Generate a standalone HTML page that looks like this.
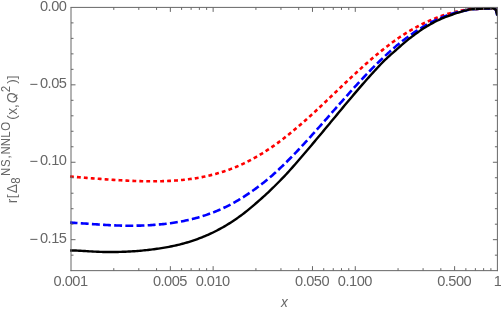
<!DOCTYPE html>
<html><head><meta charset="utf-8"><title>plot</title>
<style>html,body{margin:0;padding:0;background:#fff;}body{width:501px;height:312px;overflow:hidden;position:relative;font-family:"Liberation Sans",sans-serif;}</style>
</head><body>
<svg width="501" height="312" viewBox="0 0 501 312" style="position:absolute;left:0;top:0;will-change:transform">
<rect width="501" height="312" fill="#fff"/>
<clipPath id="q"><rect x="-2" y="-14" width="16" height="14.7"/></clipPath>
<clipPath id="c"><rect x="69.9" y="5.4" width="428.0" height="265.25"/></clipPath>
<g fill="none" stroke-width="2.4" stroke-linejoin="round" clip-path="url(#c)">
<path d="M70.00 176.53 L71.50 176.66 L73.00 176.79 L74.50 176.91 L76.00 177.04 L77.50 177.16 L79.00 177.28 L80.50 177.40 L82.00 177.52 L83.50 177.63 L85.00 177.75 L86.50 177.87 L88.00 177.98 L89.50 178.10 L91.00 178.21 L92.50 178.33 L94.00 178.44 L95.50 178.56 L97.00 178.67 L98.50 178.78 L100.00 178.89 L101.50 179.00 L103.00 179.11 L104.50 179.22 L106.00 179.33 L107.50 179.44 L109.00 179.54 L110.50 179.64 L112.00 179.74 L113.50 179.84 L115.00 179.94 L116.50 180.04 L118.00 180.13 L119.50 180.22 L121.00 180.31 L122.50 180.39 L124.00 180.48 L125.50 180.56 L127.00 180.63 L128.50 180.71 L130.00 180.78 L131.50 180.84 L133.00 180.90 L134.50 180.96 L136.00 181.02 L137.50 181.07 L139.00 181.11 L140.50 181.16 L142.00 181.19 L143.50 181.23 L145.00 181.25 L146.50 181.28 L148.00 181.29 L149.50 181.31 L151.00 181.31 L152.50 181.32 L154.00 181.31 L155.50 181.30 L157.00 181.29 L158.50 181.26 L160.00 181.23 L161.50 181.20 L163.00 181.16 L164.50 181.11 L166.00 181.05 L167.50 180.99 L169.00 180.92 L170.50 180.84 L172.00 180.76 L173.50 180.66 L175.00 180.56 L176.50 180.45 L178.00 180.33 L179.50 180.21 L181.00 180.07 L182.50 179.93 L184.00 179.77 L185.50 179.61 L187.00 179.43 L188.50 179.25 L190.00 179.05 L191.50 178.85 L193.00 178.63 L194.50 178.41 L196.00 178.17 L197.50 177.92 L199.00 177.66 L200.50 177.39 L202.00 177.10 L203.50 176.81 L205.00 176.50 L206.50 176.17 L208.00 175.84 L209.50 175.49 L211.00 175.13 L212.50 174.75 L214.00 174.36 L215.50 173.96 L217.00 173.54 L218.50 173.11 L220.00 172.66 L221.50 172.20 L223.00 171.72 L224.50 171.23 L226.00 170.72 L227.50 170.20 L229.00 169.66 L230.50 169.10 L232.00 168.53 L233.50 167.94 L235.00 167.34 L236.50 166.72 L238.00 166.08 L239.50 165.43 L241.00 164.75 L242.50 164.06 L244.00 163.36 L245.50 162.64 L247.00 161.90 L248.50 161.14 L250.00 160.36 L251.50 159.57 L253.00 158.76 L254.50 157.93 L256.00 157.09 L257.50 156.23 L259.00 155.35 L260.50 154.45 L262.00 153.54 L263.50 152.61 L265.00 151.66 L266.50 150.69 L268.00 149.71 L269.50 148.71 L271.00 147.70 L272.50 146.67 L274.00 145.62 L275.50 144.55 L277.00 143.47 L278.50 142.38 L280.00 141.27 L281.50 140.14 L283.00 139.00 L284.50 137.84 L286.00 136.67 L287.50 135.48 L289.00 134.28 L290.50 133.07 L292.00 131.84 L293.50 130.60 L295.00 129.35 L296.50 128.09 L298.00 126.81 L299.50 125.52 L301.00 124.22 L302.50 122.91 L304.00 121.59 L305.50 120.26 L307.00 118.92 L308.50 117.57 L310.00 116.22 L311.50 114.85 L313.00 113.48 L314.50 112.10 L316.00 110.71 L317.50 109.31 L319.00 107.91 L320.50 106.51 L322.00 105.10 L323.50 103.68 L325.00 102.27 L326.50 100.84 L328.00 99.42 L329.50 97.99 L331.00 96.56 L332.50 95.13 L334.00 93.70 L335.50 92.27 L337.00 90.84 L338.50 89.41 L340.00 87.98 L341.50 86.55 L343.00 85.13 L344.50 83.70 L346.00 82.28 L347.50 80.87 L349.00 79.46 L350.50 78.05 L352.00 76.65 L353.50 75.25 L355.00 73.86 L356.50 72.48 L358.00 71.10 L359.50 69.73 L361.00 68.37 L362.50 67.02 L364.00 65.68 L365.50 64.34 L367.00 63.02 L368.50 61.70 L370.00 60.40 L371.50 59.10 L373.00 57.82 L374.50 56.55 L376.00 55.29 L377.50 54.04 L379.00 52.81 L380.50 51.58 L382.00 50.38 L383.50 49.18 L385.00 48.00 L386.50 46.83 L388.00 45.68 L389.50 44.54 L391.00 43.41 L392.50 42.30 L394.00 41.21 L395.50 40.13 L397.00 39.07 L398.50 38.02 L400.00 36.99 L401.50 36.00 L403.00 35.03 L404.50 34.08 L406.00 33.15 L407.50 32.23 L409.00 31.32 L410.50 30.44 L412.00 29.57 L413.50 28.72 L415.00 27.89 L416.50 27.07 L418.00 26.27 L419.50 25.49 L421.00 24.72 L422.50 23.97 L424.00 23.24 L425.50 22.53 L427.00 21.84 L428.50 21.16 L430.00 20.50 L431.50 19.86 L433.00 19.24 L434.50 18.63 L436.00 18.04 L437.50 17.46 L439.00 16.88 L440.50 16.33 L442.00 15.80 L443.50 15.28 L445.00 14.78 L446.50 14.30 L448.00 13.84 L449.50 13.40 L451.00 12.97 L452.50 12.57 L454.00 12.18 L455.50 11.81 L457.00 11.44 L458.50 11.08 L460.00 10.74 L461.50 10.42 L463.00 10.17 L464.50 9.96 L466.00 9.73 L467.50 9.51 L469.00 9.29 L470.50 9.15 L472.00 9.05 L473.50 8.97 L475.00 8.92 L476.50 8.87 L478.00 8.85 L479.50 8.76 L481.00 8.69 L482.50 8.62 L484.00 8.56 L485.50 8.50 L487.00 8.46 L488.50 8.43 L490.00 8.39 L491.50 8.37 L493.00 8.36 L495.9 9.6 L497.3 15.4" stroke="#ff0000" stroke-width="2.6" stroke-dasharray="3.85 3.1"/>
<path d="M70.00 222.59 L71.50 222.67 L73.00 222.75 L74.50 222.84 L76.00 222.94 L77.50 223.03 L79.00 223.13 L80.50 223.24 L82.00 223.34 L83.50 223.45 L85.00 223.55 L86.50 223.66 L88.00 223.77 L89.50 223.88 L91.00 223.99 L92.50 224.09 L94.00 224.20 L95.50 224.30 L97.00 224.41 L98.50 224.51 L100.00 224.61 L101.50 224.70 L103.00 224.79 L104.50 224.88 L106.00 224.97 L107.50 225.05 L109.00 225.13 L110.50 225.20 L112.00 225.27 L113.50 225.34 L115.00 225.40 L116.50 225.46 L118.00 225.51 L119.50 225.55 L121.00 225.59 L122.50 225.63 L124.00 225.66 L125.50 225.68 L127.00 225.70 L128.50 225.71 L130.00 225.72 L131.50 225.72 L133.00 225.71 L134.50 225.70 L136.00 225.68 L137.50 225.65 L139.00 225.62 L140.50 225.58 L142.00 225.53 L143.50 225.48 L145.00 225.42 L146.50 225.35 L148.00 225.28 L149.50 225.20 L151.00 225.11 L152.50 225.01 L154.00 224.90 L155.50 224.79 L157.00 224.67 L158.50 224.54 L160.00 224.40 L161.50 224.26 L163.00 224.10 L164.50 223.94 L166.00 223.76 L167.50 223.58 L169.00 223.39 L170.50 223.19 L172.00 222.97 L173.50 222.75 L175.00 222.52 L176.50 222.28 L178.00 222.03 L179.50 221.76 L181.00 221.49 L182.50 221.20 L184.00 220.90 L185.50 220.59 L187.00 220.27 L188.50 219.93 L190.00 219.59 L191.50 219.23 L193.00 218.85 L194.50 218.47 L196.00 218.07 L197.50 217.65 L199.00 217.23 L200.50 216.78 L202.00 216.33 L203.50 215.86 L205.00 215.37 L206.50 214.87 L208.00 214.35 L209.50 213.81 L211.00 213.26 L212.50 212.70 L214.00 212.11 L215.50 211.51 L217.00 210.90 L218.50 210.26 L220.00 209.61 L221.50 208.94 L223.00 208.25 L224.50 207.54 L226.00 206.82 L227.50 206.08 L229.00 205.32 L230.50 204.54 L232.00 203.74 L233.50 202.92 L235.00 202.08 L236.50 201.23 L238.00 200.35 L239.50 199.45 L241.00 198.54 L242.50 197.60 L244.00 196.65 L245.50 195.68 L247.00 194.68 L248.50 193.67 L250.00 192.63 L251.50 191.60 L253.00 190.55 L254.50 189.48 L256.00 188.39 L257.50 187.28 L259.00 186.15 L260.50 185.00 L262.00 183.84 L263.50 182.65 L265.00 181.44 L266.50 180.22 L268.00 178.98 L269.50 177.71 L271.00 176.43 L272.50 175.14 L274.00 173.82 L275.50 172.47 L277.00 171.09 L278.50 169.71 L280.00 168.30 L281.50 166.88 L283.00 165.44 L284.50 163.99 L286.00 162.52 L287.50 161.04 L289.00 159.54 L290.50 158.03 L292.00 156.50 L293.50 154.96 L295.00 153.41 L296.50 151.85 L298.00 150.27 L299.50 148.68 L301.00 147.08 L302.50 145.47 L304.00 143.85 L305.50 142.22 L307.00 140.58 L308.50 138.94 L310.00 137.28 L311.50 135.62 L313.00 133.95 L314.50 132.29 L316.00 130.61 L317.50 128.94 L319.00 127.25 L320.50 125.56 L322.00 123.87 L323.50 122.18 L325.00 120.48 L326.50 118.78 L328.00 117.08 L329.50 115.37 L331.00 113.67 L332.50 111.97 L334.00 110.26 L335.50 108.56 L337.00 106.86 L338.50 105.16 L340.00 103.46 L341.50 101.77 L343.00 100.08 L344.50 98.39 L346.00 96.70 L347.50 95.02 L349.00 93.34 L350.50 91.67 L352.00 90.01 L353.50 88.35 L355.00 86.71 L356.50 85.07 L358.00 83.43 L359.50 81.81 L361.00 80.20 L362.50 78.60 L364.00 77.01 L365.50 75.42 L367.00 73.85 L368.50 72.29 L370.00 70.74 L371.50 69.20 L373.00 67.68 L374.50 66.17 L376.00 64.67 L377.50 63.19 L379.00 61.72 L380.50 60.27 L382.00 58.83 L383.50 57.41 L385.00 56.00 L386.50 54.61 L388.00 53.24 L389.50 51.88 L391.00 50.54 L392.50 49.22 L394.00 47.91 L395.50 46.63 L397.00 45.37 L398.50 44.14 L400.00 42.93 L401.50 41.74 L403.00 40.57 L404.50 39.42 L406.00 38.28 L407.50 37.17 L409.00 36.08 L410.50 35.01 L412.00 33.96 L413.50 32.93 L415.00 31.92 L416.50 30.93 L418.00 29.96 L419.50 29.02 L421.00 28.10 L422.50 27.20 L424.00 26.32 L425.50 25.44 L427.00 24.59 L428.50 23.76 L430.00 22.95 L431.50 22.17 L433.00 21.40 L434.50 20.67 L436.00 19.95 L437.50 19.26 L439.00 18.60 L440.50 17.95 L442.00 17.33 L443.50 16.74 L445.00 16.17 L446.50 15.61 L448.00 15.07 L449.50 14.56 L451.00 14.07 L452.50 13.60 L454.00 13.16 L455.50 12.74 L457.00 12.34 L458.50 11.97 L460.00 11.62 L461.50 11.29 L463.00 10.99 L464.50 10.69 L466.00 10.38 L467.50 10.06 L469.00 9.75 L470.50 9.53 L472.00 9.34 L473.50 9.19 L475.00 9.07 L476.50 8.94 L478.00 8.85 L479.50 8.76 L481.00 8.69 L482.50 8.62 L484.00 8.56 L485.50 8.50 L487.00 8.46 L488.50 8.43 L490.00 8.39 L491.50 8.37 L493.00 8.36 L495.9 9.6 L497.3 15.4" stroke="#0000ff" stroke-width="2.6" stroke-dasharray="7.9 3.27" stroke-dashoffset="0.4"/>
<path d="M70.00 250.47 L71.50 250.46 L73.00 250.48 L74.50 250.51 L76.00 250.57 L77.50 250.63 L79.00 250.70 L80.50 250.78 L82.00 250.87 L83.50 250.96 L85.00 251.06 L86.50 251.15 L88.00 251.24 L89.50 251.33 L91.00 251.42 L92.50 251.51 L94.00 251.59 L95.50 251.66 L97.00 251.73 L98.50 251.79 L100.00 251.85 L101.50 251.90 L103.00 251.94 L104.50 251.98 L106.00 252.00 L107.50 252.02 L109.00 252.03 L110.50 252.04 L112.00 252.03 L113.50 252.02 L115.00 252.00 L116.50 251.97 L118.00 251.93 L119.50 251.90 L121.00 251.86 L122.50 251.82 L124.00 251.77 L125.50 251.70 L127.00 251.64 L128.50 251.56 L130.00 251.48 L131.50 251.39 L133.00 251.29 L134.50 251.19 L136.00 251.08 L137.50 250.96 L139.00 250.84 L140.50 250.71 L142.00 250.57 L143.50 250.43 L145.00 250.28 L146.50 250.12 L148.00 249.95 L149.50 249.78 L151.00 249.60 L152.50 249.41 L154.00 249.22 L155.50 249.01 L157.00 248.80 L158.50 248.58 L160.00 248.35 L161.50 248.11 L163.00 247.87 L164.50 247.61 L166.00 247.36 L167.50 247.09 L169.00 246.82 L170.50 246.53 L172.00 246.24 L173.50 245.93 L175.00 245.61 L176.50 245.28 L178.00 244.92 L179.50 244.55 L181.00 244.16 L182.50 243.76 L184.00 243.35 L185.50 242.93 L187.00 242.49 L188.50 242.04 L190.00 241.57 L191.50 241.09 L193.00 240.59 L194.50 240.08 L196.00 239.55 L197.50 239.01 L199.00 238.45 L200.50 237.88 L202.00 237.30 L203.50 236.69 L205.00 236.07 L206.50 235.44 L208.00 234.78 L209.50 234.11 L211.00 233.42 L212.50 232.71 L214.00 231.98 L215.50 231.23 L217.00 230.47 L218.50 229.68 L220.00 228.87 L221.50 228.05 L223.00 227.21 L224.50 226.34 L226.00 225.46 L227.50 224.56 L229.00 223.64 L230.50 222.70 L232.00 221.74 L233.50 220.74 L235.00 219.72 L236.50 218.69 L238.00 217.63 L239.50 216.55 L241.00 215.46 L242.50 214.34 L244.00 213.21 L245.50 212.03 L247.00 210.83 L248.50 209.61 L250.00 208.38 L251.50 207.12 L253.00 205.85 L254.50 204.56 L256.00 203.25 L257.50 201.97 L259.00 200.67 L260.50 199.35 L262.00 198.02 L263.50 196.67 L265.00 195.30 L266.50 193.91 L268.00 192.51 L269.50 191.09 L271.00 189.66 L272.50 188.21 L274.00 186.74 L275.50 185.26 L277.00 183.77 L278.50 182.26 L280.00 180.74 L281.50 179.20 L283.00 177.65 L284.50 176.09 L286.00 174.51 L287.50 172.90 L289.00 171.23 L290.50 169.54 L292.00 167.85 L293.50 166.14 L295.00 164.42 L296.50 162.69 L298.00 160.95 L299.50 159.20 L301.00 157.47 L302.50 155.73 L304.00 153.99 L305.50 152.23 L307.00 150.47 L308.50 148.70 L310.00 146.93 L311.50 145.15 L313.00 143.37 L314.50 141.60 L316.00 139.83 L317.50 138.05 L319.00 136.26 L320.50 134.47 L322.00 132.68 L323.50 130.88 L325.00 129.08 L326.50 127.27 L328.00 125.47 L329.50 123.66 L331.00 121.85 L332.50 120.04 L334.00 118.23 L335.50 116.42 L337.00 114.61 L338.50 112.81 L340.00 111.00 L341.50 109.19 L343.00 107.39 L344.50 105.59 L346.00 103.80 L347.50 102.00 L349.00 100.22 L350.50 98.43 L352.00 96.65 L353.50 94.88 L355.00 93.12 L356.50 91.36 L358.00 89.61 L359.50 87.86 L361.00 86.13 L362.50 84.40 L364.00 82.68 L365.50 80.98 L367.00 79.28 L368.50 77.59 L370.00 75.92 L371.50 74.26 L373.00 72.60 L374.50 70.97 L376.00 69.34 L377.50 67.73 L379.00 66.14 L380.50 64.55 L382.00 62.99 L383.50 61.44 L385.00 59.90 L386.50 58.51 L388.00 57.13 L389.50 55.77 L391.00 54.43 L392.50 53.11 L394.00 51.80 L395.50 50.52 L397.00 49.18 L398.50 47.82 L400.00 46.49 L401.50 45.17 L403.00 43.88 L404.50 42.61 L406.00 41.36 L407.50 40.14 L409.00 38.93 L410.50 37.75 L412.00 36.58 L413.50 35.44 L415.00 34.32 L416.50 33.23 L418.00 32.16 L419.50 31.11 L421.00 30.09 L422.50 29.10 L424.00 28.12 L425.50 27.18 L427.00 26.26 L428.50 25.37 L430.00 24.50 L431.50 23.66 L433.00 22.84 L434.50 22.05 L436.00 21.28 L437.50 20.54 L439.00 19.83 L440.50 19.14 L442.00 18.47 L443.50 17.83 L445.00 17.22 L446.50 16.63 L448.00 16.06 L449.50 15.52 L451.00 15.00 L452.50 14.50 L454.00 13.98 L455.50 13.47 L457.00 12.98 L458.50 12.50 L460.00 12.05 L461.50 11.57 L463.00 11.10 L464.50 10.66 L466.00 10.26 L467.50 9.90 L469.00 9.56 L470.50 9.41 L472.00 9.28 L473.50 9.16 L475.00 9.07 L476.50 8.95 L478.00 8.85 L479.50 8.76 L481.00 8.69 L482.50 8.62 L484.00 8.56 L485.50 8.50 L487.00 8.46 L488.50 8.43 L490.00 8.39 L491.50 8.37 L493.00 8.36 L495.9 9.6 L497.3 15.4" stroke="#000000"/>
</g>
<g stroke="#666666" stroke-width="1" fill="none">
<path d="M71.0 7.4 V271.15"/>
<path d="M497.4 7.4 V271.15"/>
<path d="M70.5 7.4 H497.9"/>
<path d="M70.5 270.65 H497.9"/>
<path d="M113.79 270.65 v-2.5 M113.79 7.4 v2.5 M138.81 270.65 v-2.5 M138.81 7.4 v2.5 M156.57 270.65 v-2.5 M156.57 7.4 v2.5 M170.35 270.65 v-4.5 M170.35 7.4 v4.5 M181.60 270.65 v-2.5 M181.60 7.4 v2.5 M191.12 270.65 v-2.5 M191.12 7.4 v2.5 M199.36 270.65 v-2.5 M199.36 7.4 v2.5 M206.63 270.65 v-2.5 M206.63 7.4 v2.5 M213.13 270.65 v-4.5 M213.13 7.4 v4.5 M255.92 270.65 v-2.5 M255.92 7.4 v2.5 M280.95 270.65 v-2.5 M280.95 7.4 v2.5 M298.71 270.65 v-2.5 M298.71 7.4 v2.5 M312.48 270.65 v-4.5 M312.48 7.4 v4.5 M323.73 270.65 v-2.5 M323.73 7.4 v2.5 M333.25 270.65 v-2.5 M333.25 7.4 v2.5 M341.49 270.65 v-2.5 M341.49 7.4 v2.5 M348.76 270.65 v-2.5 M348.76 7.4 v2.5 M355.27 270.65 v-4.5 M355.27 7.4 v4.5 M398.05 270.65 v-2.5 M398.05 7.4 v2.5 M423.08 270.65 v-2.5 M423.08 7.4 v2.5 M440.84 270.65 v-2.5 M440.84 7.4 v2.5 M454.61 270.65 v-4.5 M454.61 7.4 v4.5 M465.87 270.65 v-2.5 M465.87 7.4 v2.5 M475.38 270.65 v-2.5 M475.38 7.4 v2.5 M483.63 270.65 v-2.5 M483.63 7.4 v2.5 M490.90 270.65 v-2.5 M490.90 7.4 v2.5 M71.0 22.89 h2.5 M497.4 22.89 h-2.5 M71.0 38.37 h2.5 M497.4 38.37 h-2.5 M71.0 53.86 h2.5 M497.4 53.86 h-2.5 M71.0 69.34 h2.5 M497.4 69.34 h-2.5 M71.0 84.83 h4.5 M497.4 84.83 h-4.5 M71.0 100.31 h2.5 M497.4 100.31 h-2.5 M71.0 115.80 h2.5 M497.4 115.80 h-2.5 M71.0 131.28 h2.5 M497.4 131.28 h-2.5 M71.0 146.77 h2.5 M497.4 146.77 h-2.5 M71.0 162.25 h4.5 M497.4 162.25 h-4.5 M71.0 177.74 h2.5 M497.4 177.74 h-2.5 M71.0 193.22 h2.5 M497.4 193.22 h-2.5 M71.0 208.71 h2.5 M497.4 208.71 h-2.5 M71.0 224.19 h2.5 M497.4 224.19 h-2.5 M71.0 239.68 h4.5 M497.4 239.68 h-4.5 M71.0 255.16 h2.5 M497.4 255.16 h-2.5 "/>
</g>
<g font-family="Liberation Sans, sans-serif" font-size="13.6" fill="#666666">
<text x="70.60" y="285.5" text-anchor="middle" font-size="14.6" letter-spacing="-0.5">0.001</text>
<text x="169.95" y="285.5" text-anchor="middle" font-size="14.6" letter-spacing="-0.5">0.005</text>
<text x="212.73" y="285.5" text-anchor="middle" font-size="14.6" letter-spacing="-0.5">0.010</text>
<text x="312.08" y="285.5" text-anchor="middle" font-size="14.6" letter-spacing="-0.5">0.050</text>
<text x="354.87" y="285.5" text-anchor="middle" font-size="14.6" letter-spacing="-0.5">0.100</text>
<text x="454.21" y="285.5" text-anchor="middle" font-size="14.6" letter-spacing="-0.5">0.500</text>
<text x="497.60" y="285.5" text-anchor="middle" font-size="14.6" letter-spacing="-0.5">1</text>
<text x="66.4" y="10.75" text-anchor="end" font-size="14.6" letter-spacing="-0.5">0.00</text>
<text x="66.4" y="88.18" text-anchor="end" font-size="14.6" letter-spacing="-0.5">0.05</text>
<text x="29.5" y="89.08" font-size="14.6">−</text>
<text x="66.4" y="165.10" text-anchor="end" font-size="14.6" letter-spacing="-0.5">0.10</text>
<text x="29.5" y="166.00" font-size="14.6">−</text>
<text x="66.4" y="243.13" text-anchor="end" font-size="14.6" letter-spacing="-0.5">0.15</text>
<text x="29.5" y="244.03" font-size="14.6">−</text>
<text transform="translate(284.4 306.6) scale(0.92 1)" text-anchor="middle" font-size="14.8" font-style="italic">x</text>
<text transform="translate(16.9 203.34) rotate(-90)" font-size="13.8">r</text>
<text transform="translate(15.9 198.25) rotate(-90)" font-size="13.5">[</text>
<text transform="translate(16.9 193.21) rotate(-90)" font-size="13.8">Δ</text>
<text transform="translate(19.8 183.84) rotate(-90) scale(0.91 1)" font-size="12.6">8</text>
<text transform="translate(9.9 176.04) rotate(-90) scale(0.91 1)" font-size="12.6">N</text>
<text transform="translate(9.9 166.92) rotate(-90) scale(0.91 1)" font-size="12.6">S</text>
<text transform="translate(9.9 158.44) rotate(-90) scale(0.91 1)" font-size="12.6">,</text>
<text transform="translate(9.9 154.54) rotate(-90) scale(0.91 1)" font-size="12.6">N</text>
<text transform="translate(9.9 146.14) rotate(-90) scale(0.91 1)" font-size="12.6">N</text>
<text transform="translate(9.9 137.87) rotate(-90) scale(0.91 1)" font-size="12.6">L</text>
<text transform="translate(9.9 130.66) rotate(-90) scale(0.91 1)" font-size="12.6">O</text>
<text transform="translate(15.9 119.73) rotate(-90)" font-size="13.5">(</text>
<text transform="translate(16.9 114.70) rotate(-90)" font-size="13.8">x</text>
<text transform="translate(16.9 108.02) rotate(-90)" font-size="13.8">,</text>
<text transform="translate(16.9 103.23) rotate(-90)" font-size="13.8" font-style="italic" clip-path="url(#q)">Q</text>
<text transform="translate(9.7 92.14) rotate(-90) scale(0.91 1)" font-size="12.6">2</text>
<text transform="translate(15.9 83.82) rotate(-90)" font-size="13.5">)</text>
<text transform="translate(15.9 79.20) rotate(-90)" font-size="13.5">]</text>
<path d="M13.6 97.6 L17.4 94.6" stroke="#666666" stroke-width="1.1" fill="none"/>
</g>
</svg>
</body></html>
